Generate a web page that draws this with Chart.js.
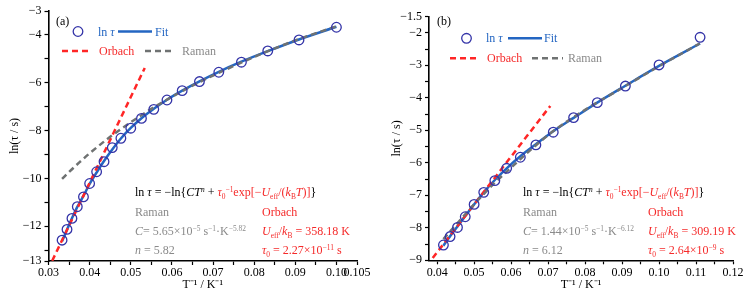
<!DOCTYPE html>
<html>
<head>
<meta charset="utf-8">
<script src="https://cdn.jsdelivr.net/npm/chart.js@4.4.0/dist/chart.umd.min.js"></script>
<style>
  html, body { margin: 0; padding: 0; background: #fff; }
  #wrap { position: relative; width: 756px; height: 296px; }
  canvas { position: absolute; top: 0; }
</style>
</head>
<body>
<div id="wrap">
  <canvas id="chartA" width="378" height="296" style="left:0"></canvas>
  <canvas id="chartB" width="378" height="296" style="left:378px"></canvas>
</div>
<script>
// ---- panel (a) data ----
var invTA = [0.0333, 0.0345, 0.0357, 0.0370, 0.0385, 0.0400, 0.0417, 0.0435, 0.0455, 0.0476, 0.0500,
             0.0526, 0.0556, 0.0588, 0.0625, 0.0667, 0.0714, 0.0769, 0.0833, 0.0909, 0.1000];
var lnTauA = [-12.58, -12.13, -11.67, -11.18, -10.77, -10.21, -9.72, -9.30, -8.71, -8.32, -7.90,
              -7.49, -7.11, -6.72, -6.33, -5.95, -5.56, -5.14, -4.67, -4.21, -3.68];
var fitA = [-12.62, -12.14, -11.66, -11.19, -10.73, -10.23, -9.75, -9.27, -8.79, -8.33, -7.89,
            -7.48, -7.09, -6.71, -6.33, -5.94, -5.54, -5.12, -4.68, -4.19, -3.66];
var ramanXA = [0.0333, 0.035, 0.0375, 0.04, 0.045, 0.05, 0.055, 0.06, 0.065, 0.07, 0.08, 0.09, 0.1];
var ramanA = [-10.02, -9.73, -9.33, -8.95, -8.26, -7.65, -7.09, -6.59, -6.12, -5.70, -4.92, -4.23, -3.64];
var orbachXA = [0.0309, 0.0534];
var orbachA = [-13.44, -5.38];
var xTicksA = [0.03, 0.035, 0.04, 0.045, 0.05, 0.055, 0.06, 0.065, 0.07, 0.075, 0.08, 0.085, 0.09, 0.095, 0.10, 0.105];
var xLabelsA = ['0.03', '', '0.04', '', '0.05', '', '0.06', '', '0.07', '', '0.08', '', '0.09', '', '0.10', '0.105'];
var yTicksA = [-13.45, -13, -12, -11, -10, -9, -8, -7, -6, -5, -4, -3];
var yLabelsA = ['−13', '', '−12', '', '−10', '', '−8', '', '−6', '', '−4', '−3'];

// ---- panel (b) data ----
var invTB = [0.0417, 0.0435, 0.0455, 0.0476, 0.0500, 0.0526, 0.0556, 0.0588, 0.0625, 0.0667,
             0.0714, 0.0769, 0.0833, 0.0909, 0.1000, 0.1111];
var lnTauB = [-8.53, -8.27, -7.99, -7.66, -7.28, -6.91, -6.55, -6.17, -5.83, -5.45,
              -5.06, -4.61, -4.15, -3.64, -2.99, -2.14];
var fitB = [-8.55, -8.26, -7.96, -7.64, -7.28, -6.91, -6.53, -6.17, -5.80, -5.43,
            -5.03, -4.62, -4.15, -3.63, -3.02, -2.33];
var ramanXB = [0.0417, 0.045, 0.05, 0.055, 0.06, 0.07, 0.08, 0.09, 0.1, 0.111];
var ramanB = [-8.35, -7.92, -7.28, -6.68, -6.15, -5.15, -4.37, -3.70, -3.03, -2.33];
var orbachXB = [0.0388, 0.0706];
var orbachB = [-8.93, -4.25];
var xTicksB = [0.04, 0.045, 0.05, 0.055, 0.06, 0.065, 0.07, 0.075, 0.08, 0.085, 0.09, 0.095, 0.10, 0.105, 0.11, 0.115, 0.12];
var xLabelsB = ['0.04', '', '0.05', '', '0.06', '', '0.07', '', '0.08', '', '0.09', '', '0.10', '', '0.11', '', '0.12'];
var yTicksB = [-9, -8.5, -8, -7.5, -7, -6.5, -6, -5.5, -5, -4.5, -4, -3.5, -3, -2.5, -2, -1.5];
var yLabelsB = ['−9', '', '−8', '', '−7', '', '−6', '', '−5', '', '−4', '', '−3', '', '−2', '−1.5'];

var FONT = '"Liberation Serif", "Times New Roman", serif';
var K = '#000', R = '#f52a2a', G = '#8a8a8a', BLUE = '#2466c2';

function zip(xs, ys) {
    return xs.map(function (x, i) { return { x: x, y: ys[i] }; });
}

// draws a run of text pieces; flags: i = italic, ^ = superscript, _ = subscript
function richText(ctx, x, y, segs, size) {
    segs.forEach(function (s) {
        var f = s[2] || '';
        var sz = (f.indexOf('^') >= 0 || f.indexOf('_') >= 0) ? size * 0.62 : size;
        var dy = f.indexOf('^') >= 0 ? -size * 0.36 : (f.indexOf('_') >= 0 ? size * 0.22 : 0);
        ctx.font = (f.indexOf('i') >= 0 ? 'italic ' : '') + sz + 'px ' + FONT;
        ctx.fillStyle = s[1];
        ctx.fillText(s[0], x, y + dy);
        x += ctx.measureText(s[0]).width;
    });
}

function annotationPlugin(cfg) {
    return {
        id: 'notes',
        afterDraw: function (chart) {
            var ctx = chart.ctx;
            var ds = chart.data.datasets;
            ctx.save();
            ctx.textBaseline = 'alphabetic';
            richText(ctx, cfg.tag[0], cfg.tag[1], [[cfg.tag[2], K]], 12);

            // legend, styled from the datasets
            var L = cfg.legend;
            ctx.beginPath();
            ctx.lineWidth = ds[0].borderWidth;
            ctx.strokeStyle = ds[0].borderColor;
            ctx.arc(L.circle[0], L.circle[1], ds[0].pointRadius, 0, Math.PI * 2);
            ctx.stroke();
            richText(ctx, L.lnTau[0], L.lnTau[1] + 4, [['ln ', BLUE], ['τ', BLUE, 'i']], 12);
            [[1, L.fitLine], [2, L.orbLine], [3, L.ramLine]].forEach(function (p) {
                var d = ds[p[0]];
                ctx.beginPath();
                ctx.setLineDash(d.borderDash || []);
                ctx.lineWidth = d.borderWidth;
                ctx.strokeStyle = d.borderColor;
                ctx.moveTo(p[1][0], p[1][2]);
                ctx.lineTo(p[1][1], p[1][2]);
                ctx.stroke();
            });
            ctx.setLineDash([]);
            richText(ctx, L.fit[0], L.fit[1] + 4, [['Fit', BLUE]], 12);
            richText(ctx, L.orb[0], L.orb[1] + 4, [['Orbach', R]], 12);
            richText(ctx, L.ram[0], L.ram[1] + 4, [['Raman', G]], 12);

            // equation and parameters
            var T = cfg.text;
            richText(ctx, T.x1, T.rows[0], [['ln ', K], ['τ', K, 'i'], [' = −ln{', K], ['CT', K, 'i'], ['n', K, 'i^'],
                [' + ', K], ['τ', R, 'i'], ['0', R, '_'], ['−1', R, '^'], ['exp[−', R], ['U', R, 'i'], ['eff', R, '_'],
                ['/(', R], ['k', R, 'i'], ['B', R, '_'], ['T', R, 'i'], [')]', R], ['}', K]], 12);
            richText(ctx, T.x1, T.rows[1], [['Raman', G]], 12);
            richText(ctx, T.x2, T.rows[1], [['Orbach', R]], 12);
            richText(ctx, T.x1, T.rows[2], [['C', G, 'i'], ['= ' + T.C + '×10', G], [T.Cexp, G, '^'], [' s', G],
                ['−1', G, '^'], ['·K', G], ['−' + T.n, G, '^']], 12);
            richText(ctx, T.x2, T.rows[2], [['U', R, 'i'], ['eff', R, '_'], ['/', R], ['k', R, 'i'], ['B', R, '_'],
                [' = ' + T.U + ' K', R]], 12);
            richText(ctx, T.x1, T.rows[3], [['n', G, 'i'], [' = ' + T.n, G]], 12);
            richText(ctx, T.x2, T.rows[3], [['τ', R, 'i'], ['0', R, '_'], [' = ' + T.tau0 + '×10', R],
                [T.tauExp, R, '^'], [' s', R]], 12);
            ctx.restore();
        }
    };
}

function makePanel(id, p) {
    var tickFont = { family: FONT, size: 12 };
    return new Chart(document.getElementById(id), {
        type: 'scatter',
        data: {
            datasets: [{
                label: 'ln τ',
                data: zip(p.invT, p.lnTau),
                pointRadius: 4.8,
                pointStyle: 'circle',
                backgroundColor: 'rgba(0,0,0,0)',
                borderColor: '#3434a8',
                borderWidth: 1.3,
                order: 0
            }, {
                label: 'Fit',
                data: zip(p.invT, p.fit),
                showLine: true,
                pointRadius: 0,
                borderColor: BLUE,
                borderWidth: 2.5,
                cubicInterpolationMode: 'monotone',
                order: 3
            }, {
                label: 'Orbach',
                data: zip(p.orbX, p.orb),
                showLine: true,
                pointRadius: 0,
                borderColor: '#ff2626',
                borderWidth: 2.5,
                borderDash: [6, 4],
                order: 2
            }, {
                label: 'Raman',
                data: zip(p.ramX, p.ram),
                showLine: true,
                pointRadius: 0,
                borderColor: '#6f7272',
                borderWidth: 2.5,
                borderDash: [6, 4],
                cubicInterpolationMode: 'monotone',
                order: 1
            }]
        },
        options: {
            responsive: false,
            animation: false,
            devicePixelRatio: 1,
            layout: { padding: { left: 0, right: p.padRight, top: p.padTop, bottom: 0 } },
            plugins: { legend: { display: false }, tooltip: { enabled: false } },
            scales: {
                x: {
                    type: 'linear',
                    min: p.xMin,
                    max: p.xMax,
                    afterBuildTicks: function (s) { s.ticks = p.xTicks.map(function (v) { return { value: v }; }); },
                    afterFit: function (s) { s.height = p.xAxisH; },
                    ticks: {
                        autoSkip: false, maxRotation: 0, padding: 1, color: '#000', font: tickFont,
                        callback: function (v, i) { return p.xLabels[i]; }
                    },
                    grid: { drawOnChartArea: false, tickLength: 4, tickColor: '#000', tickWidth: 1.2 },
                    border: { color: '#000', width: 1.6 },
                    title: { display: true, text: 'T⁻¹ / K⁻¹', color: '#000', font: tickFont, padding: { top: 0, bottom: 4 } }
                },
                y: {
                    type: 'linear',
                    min: p.yMin,
                    max: p.yMax,
                    afterBuildTicks: function (s) { s.ticks = p.yTicks.map(function (v) { return { value: v }; }); },
                    afterFit: function (s) { s.width = p.yAxisW; },
                    ticks: {
                        autoSkip: false, padding: 3, color: '#000', font: tickFont,
                        callback: function (v, i) { return p.yLabels[i]; }
                    },
                    grid: { drawOnChartArea: false, tickLength: 4, tickColor: '#000', tickWidth: 1.2 },
                    border: { color: '#000', width: 1.6 },
                    title: { display: true, text: 'ln(τ / s)', color: '#000', font: tickFont, padding: { top: p.yTitlePad, bottom: 0 } }
                }
            }
        },
        plugins: [annotationPlugin(p.notes)]
    });
}

makePanel('chartA', {
    invT: invTA, lnTau: lnTauA, fit: fitA, orbX: orbachXA, orb: orbachA, ramX: ramanXA, ram: ramanA,
    xMin: 0.03, xMax: 0.105, yMin: -13.45, yMax: -3,
    xTicks: xTicksA, xLabels: xLabelsA, yTicks: yTicksA, yLabels: yLabelsA,
    padRight: 21, padTop: 11, xAxisH: 35, yAxisW: 48.5, yTitlePad: 8,
    notes: {
        tag: [56, 25, '(a)'],
        legend: { circle: [78, 31.5], lnTau: [98, 31.5], fitLine: [118, 152, 31.5], fit: [155, 31.5],
                  orbLine: [62, 91, 51], orb: [99, 51], ramLine: [145, 175, 51], ram: [182, 51] },
        text: { x1: 135, x2: 262, rows: [196, 216, 235, 254], C: '5.65', Cexp: '−5', n: '5.82',
                U: '358.18', tau0: '2.27', tauExp: '−11' }
    }
});

makePanel('chartB', {
    invT: invTB, lnTau: lnTauB, fit: fitB, orbX: orbachXB, orb: orbachB, ramX: ramanXB, ram: ramanB,
    xMin: 0.0378, xMax: 0.12, yMin: -9, yMax: -1.5,
    xTicks: xTicksB, xLabels: xLabelsB, yTicks: yTicksB, yLabels: yLabelsB,
    padRight: 23, padTop: 16.5, xAxisH: 35.7, yAxisW: 51, yTitlePad: 12,
    notes: {
        tag: [59, 25, '(b)'],
        legend: { circle: [88.5, 38.3], lnTau: [108, 38.3], fitLine: [130, 164, 38.3], fit: [166, 38.3],
                  orbLine: [72, 100, 58.3], orb: [109, 58.3], ramLine: [154, 185, 58.3], ram: [190, 58.3] },
        text: { x1: 145, x2: 270, rows: [196, 216, 235, 254], C: '1.44', Cexp: '−5', n: '6.12',
                U: '309.19', tau0: '2.64', tauExp: '−9' }
    }
});
</script>
</body>
</html>
